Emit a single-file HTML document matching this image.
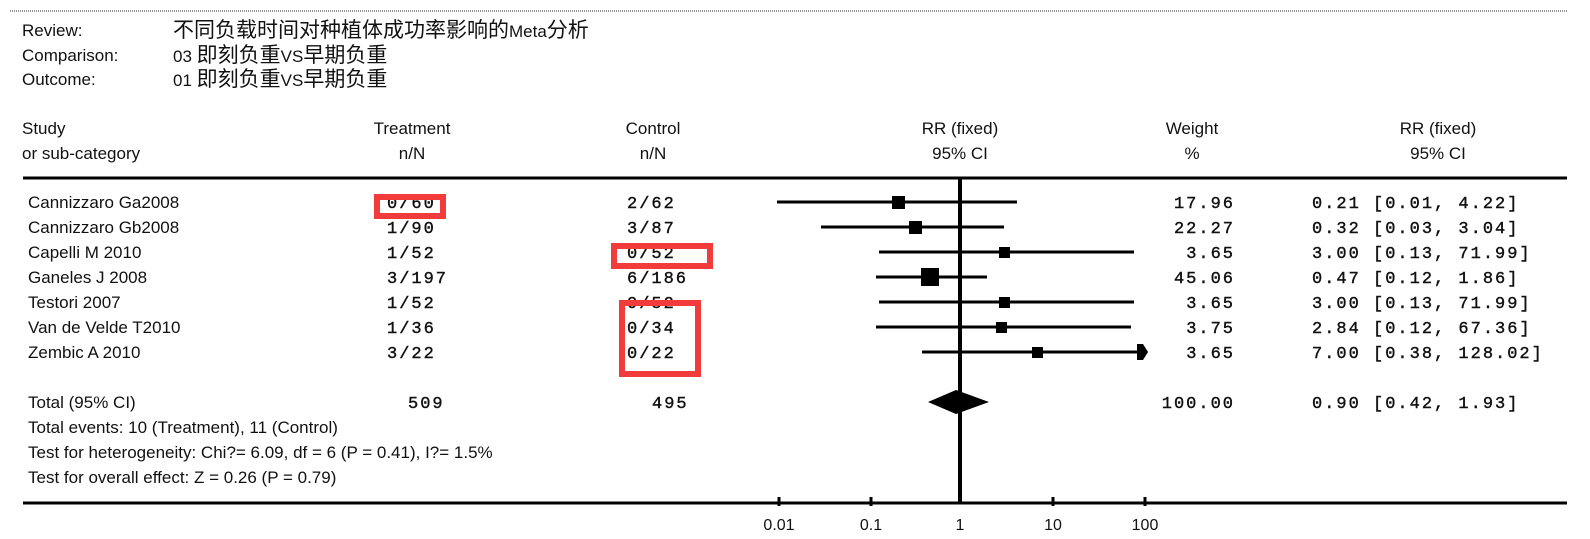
<!DOCTYPE html>
<html><head><meta charset="utf-8"><style>
html,body{margin:0;padding:0;background:#fff;}
svg{display:block;}
.s{font-family:"Liberation Sans","Noto Sans CJK SC",sans-serif;font-size:17px;fill:#111;}
.c{font-size:21px;}
.m{font-family:"Liberation Mono",monospace;font-size:17px;letter-spacing:2px;fill:#111;stroke:#111;stroke-width:0.4;}
</style></head><body>
<svg width="1590" height="539" viewBox="0 0 1590 539" xmlns="http://www.w3.org/2000/svg">
<line x1="10" y1="11" x2="1568" y2="11" stroke="#999" stroke-width="2" stroke-dasharray="1,1"/>
<text class="s" x="22" y="36">Review:</text>
<text class="s" x="22" y="61">Comparison:</text>
<text class="s" x="22" y="85">Outcome:</text>
<text class="s" x="173" y="37"><tspan class="c">不同负载时间对种植体成功率影响的</tspan>Meta<tspan class="c">分析</tspan></text>
<text class="s" x="173" y="62">03 <tspan class="c">即刻负重</tspan>VS<tspan class="c">早期负重</tspan></text>
<text class="s" x="173" y="86">01 <tspan class="c">即刻负重</tspan>VS<tspan class="c">早期负重</tspan></text>

<text class="s" x="22" y="134">Study</text>
<text class="s" x="22" y="159">or sub-category</text>
<g class="s" text-anchor="middle">
<text x="412" y="134">Treatment</text><text x="412" y="159">n/N</text>
<text x="653" y="134">Control</text><text x="653" y="159">n/N</text>
<text x="960" y="134">RR (fixed)</text><text x="960" y="159">95% CI</text>
<text x="1192" y="134">Weight</text><text x="1192" y="159">%</text>
<text x="1438" y="134">RR (fixed)</text><text x="1438" y="159">95% CI</text>
</g>
<line x1="23" y1="178" x2="1567" y2="178" stroke="#000" stroke-width="3"/>
<line x1="23" y1="503" x2="1567" y2="503" stroke="#000" stroke-width="3"/>

<g class="s">
<text x="28" y="208">Cannizzaro Ga2008</text>
<text x="28" y="233">Cannizzaro Gb2008</text>
<text x="28" y="258">Capelli M 2010</text>
<text x="28" y="283">Ganeles J 2008</text>
<text x="28" y="308">Testori 2007</text>
<text x="28" y="333">Van de Velde T2010</text>
<text x="28" y="358">Zembic A 2010</text>
<text x="28" y="408">Total (95% CI)</text>
<text x="28" y="433">Total events: 10 (Treatment), 11 (Control)</text>
<text x="28" y="458">Test for heterogeneity: Chi?= 6.09, df = 6 (P = 0.41), I?= 1.5%</text>
<text x="28" y="483">Test for overall effect: Z = 0.26 (P = 0.79)</text>
</g>
<g class="m">
<text x="387" y="208">0/60</text><text x="627" y="208">2/62</text>
<text x="387" y="233">1/90</text><text x="627" y="233">3/87</text>
<text x="387" y="258">1/52</text><text x="627" y="258">0/52</text>
<text x="387" y="283">3/197</text><text x="627" y="283">6/186</text>
<text x="387" y="308">1/52</text><text x="627" y="308">0/52</text>
<text x="387" y="333">1/36</text><text x="627" y="333">0/34</text>
<text x="387" y="358">3/22</text><text x="627" y="358">0/22</text>
<text x="408" y="408">509</text><text x="652" y="408">495</text>
</g>
<g class="m" text-anchor="end">
<text x="1235" y="208">17.96</text>
<text x="1235" y="233">22.27</text>
<text x="1235" y="258">3.65</text>
<text x="1235" y="283">45.06</text>
<text x="1235" y="308">3.65</text>
<text x="1235" y="333">3.75</text>
<text x="1235" y="358">3.65</text>
<text x="1235" y="408">100.00</text>
</g>
<g class="m">
<text x="1312" y="208">0.21 [0.01, 4.22]</text>
<text x="1312" y="233">0.32 [0.03, 3.04]</text>
<text x="1312" y="258">3.00 [0.13, 71.99]</text>
<text x="1312" y="283">0.47 [0.12, 1.86]</text>
<text x="1312" y="308">3.00 [0.13, 71.99]</text>
<text x="1312" y="333">2.84 [0.12, 67.36]</text>
<text x="1312" y="358">7.00 [0.38, 128.02]</text>
<text x="1312" y="408">0.90 [0.42, 1.93]</text>
</g>

<line x1="960" y1="178" x2="960" y2="503" stroke="#000" stroke-width="4"/>
<g stroke="#000" stroke-width="3">
<line x1="777" y1="202" x2="1017" y2="202"/>
<line x1="821" y1="227" x2="1004" y2="227"/>
<line x1="879" y1="252" x2="1134" y2="252"/>
<line x1="876" y1="277" x2="987" y2="277"/>
<line x1="879" y1="302" x2="1134" y2="302"/>
<line x1="876" y1="327" x2="1131" y2="327"/>
<line x1="922" y1="352" x2="1140" y2="352"/>
</g>
<g fill="#000">
<rect x="892" y="196" width="13" height="13"/>
<rect x="909" y="221" width="13" height="13"/>
<rect x="999" y="247" width="11" height="11"/>
<rect x="921" y="268" width="18" height="18"/>
<rect x="999" y="297" width="11" height="11"/>
<rect x="996" y="322" width="11" height="11"/>
<rect x="1032" y="347" width="11" height="11"/>
<polygon points="1137,344 1143,344 1148,352 1143,360 1137,360"/>
<polygon points="928,402 956,390 989,402 956,414"/>
</g>
<g stroke="#000" stroke-width="3">
<line x1="779" y1="497" x2="779" y2="506"/>
<line x1="871" y1="497" x2="871" y2="506"/>
<line x1="1053" y1="497" x2="1053" y2="506"/>
<line x1="1145" y1="497" x2="1145" y2="506"/>
</g>
<g class="s" text-anchor="middle" style="font-size:16px">
<text x="779" y="530">0.01</text>
<text x="871" y="530">0.1</text>
<text x="960" y="530">1</text>
<text x="1053" y="530">10</text>
<text x="1145" y="530">100</text>
</g>

<g fill="none" stroke="#f23c3c" stroke-width="6">
<rect x="377" y="197" width="66" height="19"/>
<rect x="614" y="246" width="96" height="20"/>
<rect x="622" y="303" width="76" height="71"/>
</g>
</svg>
</body></html>
